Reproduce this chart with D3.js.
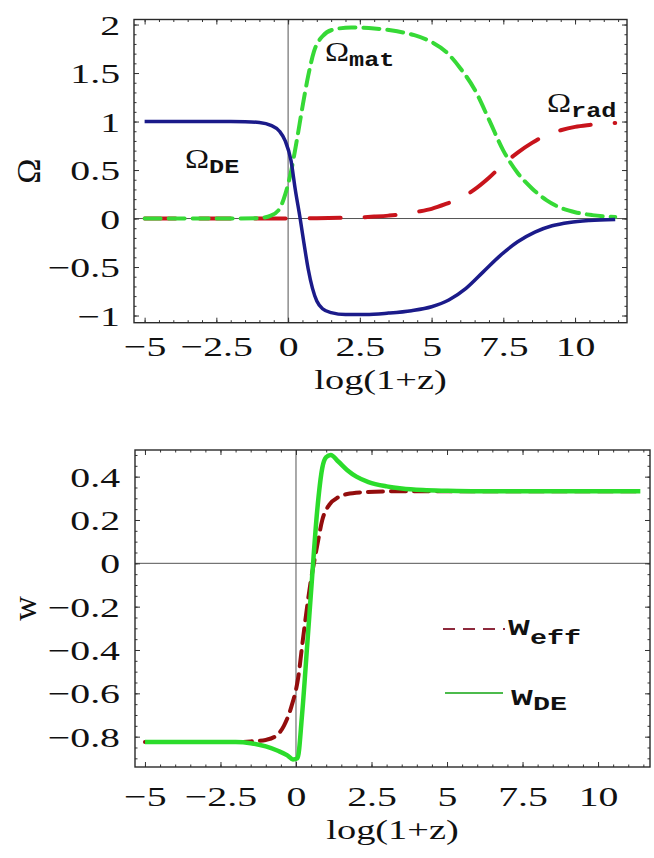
<!DOCTYPE html>
<html>
<head>
<meta charset="utf-8">
<script src="https://cdn.jsdelivr.net/npm/d3@7"></script>
<style>
  html, body { margin: 0; padding: 0; background: #fff; }
  svg { display: block; }
</style>
</head>
<body>
<svg id="fig" width="654" height="858"></svg>
<script>
// ---- Upper panel: density parameters vs log(1+z) ----
const omegaDE_x = [-5, -3, -2, -1.5, -1, -0.6, -0.3, -0.1, 0.1, 0.25, 0.42, 0.55, 0.7, 0.85, 1.0, 1.2, 1.5, 2.0, 2.7, 3.5, 4.3, 5.0, 5.6, 6.2, 6.8, 7.4, 8.0, 8.6, 9.2, 9.8, 10.5, 11.4];
const omegaDE_y = [1, 1, 1, 0.998, 0.99, 0.96, 0.9, 0.8, 0.6, 0.3, 0, -0.25, -0.52, -0.72, -0.85, -0.93, -0.97, -0.99, -0.99, -0.975, -0.95, -0.91, -0.84, -0.72, -0.55, -0.38, -0.24, -0.14, -0.075, -0.04, -0.02, -0.01];

const omegaMat_x = [-5, -2, -1, -0.6, -0.3, -0.1, 0.1, 0.3, 0.5, 0.7, 0.9, 1.2, 1.6, 2.2, 3.0, 3.8, 4.4, 5.0, 5.5, 6.0, 6.5, 7.0, 7.5, 8.0, 8.5, 9.0, 9.5, 10.0, 10.6, 11.4];
const omegaMat_y = [0, 0, 0.005, 0.03, 0.1, 0.25, 0.48, 0.8, 1.15, 1.47, 1.72, 1.88, 1.95, 1.97, 1.96, 1.93, 1.89, 1.82, 1.72, 1.55, 1.33, 1.02, 0.7, 0.47, 0.31, 0.19, 0.11, 0.065, 0.035, 0.015];

const omegaRad_x = [-5, 0, 1, 2, 2.5, 3, 3.5, 4, 4.5, 5, 5.5, 6, 6.5, 7, 7.5, 8, 8.5, 9, 9.5, 10, 10.5, 11, 11.4];
const omegaRad_y = [0, 0, 0.003, 0.008, 0.012, 0.02, 0.03, 0.045, 0.07, 0.1, 0.15, 0.21, 0.3, 0.42, 0.56, 0.68, 0.78, 0.86, 0.91, 0.945, 0.965, 0.98, 0.985];

// ---- Lower panel: equation of state ----
const wDE_x = [-5, -3, -2, -1.5, -1, -0.6, -0.3, -0.1, 0.05, 0.2, 0.37, 0.53, 0.7, 0.87, 1.0, 1.15, 1.4, 1.7, 2.0, 2.4, 3.0, 3.5, 4.2, 5, 6, 8, 10, 11.4];
const wDE_y = [-0.825, -0.825, -0.825, -0.83, -0.845, -0.865, -0.885, -0.905, -0.9, -0.7, -0.38, -0.07, 0.24, 0.44, 0.49, 0.5, 0.47, 0.43, 0.4, 0.375, 0.355, 0.345, 0.338, 0.335, 0.333, 0.333, 0.333, 0.333];

const wEff_x = [-5, -3, -2, -1.5, -1, -0.7, -0.4, -0.15, 0.07, 0.23, 0.47, 0.7, 0.87, 1.1, 1.4, 1.7, 2.2, 3, 4, 6, 8, 10, 11.4];
const wEff_y = [-0.825, -0.825, -0.825, -0.822, -0.815, -0.8, -0.75, -0.66, -0.53, -0.35, -0.1, 0.08, 0.2, 0.27, 0.305, 0.32, 0.328, 0.332, 0.333, 0.333, 0.333, 0.333, 0.333];

// ---- Tick labels ----
const topXTicks = [-5, -2.5, 0, 2.5, 5, 7.5, 10];
const topYTicks = [-1, -0.5, 0, 0.5, 1, 1.5, 2];
const botXTicks = [-5, -2.5, 0, 2.5, 5, 7.5, 10];
const botYTicks = [-0.8, -0.6, -0.4, -0.2, 0, 0.2, 0.4];

const xTitle = "log(1+z)";
const topYTitle = "Ω";
const botYTitle = "w";

const SERIF = "'Liberation Serif', 'Times New Roman', serif";
const MONO = "'Liberation Mono', 'Courier New', monospace";
const fmt = v => (v < 0 ? "\u2212" : "") + Math.abs(v);
const zip = (xs, ys) => xs.map((x, i) => [x, ys[i]]);

const svg = d3.select("#fig");

function panel(cfg) {
  const g = svg.append("g");
  const x = d3.scaleLinear().domain(cfg.xDom).range([cfg.left, cfg.right]);
  const y = d3.scaleLinear().domain(cfg.yDom).range([cfg.bottom, cfg.top]);

  // zero axes
  g.append("line").attr("x1", x(0)).attr("x2", x(0)).attr("y1", cfg.top).attr("y2", cfg.bottom)
    .attr("stroke", "#555").attr("stroke-width", 1);
  g.append("line").attr("x1", cfg.left).attr("x2", cfg.right).attr("y1", y(0)).attr("y2", y(0))
    .attr("stroke", "#555").attr("stroke-width", 1);

  // inward frame ticks on all four sides
  const tickSets = [
    [d3.axisBottom(x), cfg.bottom, "x", cfg.xTicks, 5],
    [d3.axisBottom(x), cfg.bottom, "x", cfg.xMinor, 2.5],
    [d3.axisTop(x), cfg.top, "x", cfg.xTicks, 5],
    [d3.axisTop(x), cfg.top, "x", cfg.xMinor, 2.5],
    [d3.axisLeft(y), cfg.left, "y", cfg.yTicks, 5],
    [d3.axisLeft(y), cfg.left, "y", cfg.yMinor, 2.5],
    [d3.axisRight(y), cfg.right, "y", cfg.yTicks, 5],
    [d3.axisRight(y), cfg.right, "y", cfg.yMinor, 2.5]
  ];
  tickSets.forEach(([ax, pos, dir, vals, len]) => {
    const a = g.append("g")
      .attr("transform", dir === "x" ? `translate(0,${pos})` : `translate(${pos},0)`)
      .call(ax.tickValues(vals).tickSize(-len).tickFormat(""));
    a.select(".domain").remove();
    a.selectAll("line").attr("stroke", "#333").attr("stroke-width", 1);
    a.selectAll("text").remove();
  });

  // tick labels from axes, stretched like the rest of the lettering
  const bx = g.append("g").attr("transform", `translate(0,${cfg.xLabelY})`)
    .call(d3.axisBottom(x).tickValues(cfg.xTicks).tickSize(0).tickFormat(fmt));
  bx.select(".domain").remove();
  bx.selectAll("text").attr("x", null).attr("y", null).attr("dy", null)
    .attr("transform", "scale(1.42,1)")
    .attr("font-family", SERIF).attr("font-size", 28).attr("fill", "#111")
    .attr("text-anchor", "middle");

  const ly = g.append("g").attr("transform", `translate(${cfg.yLabelX},0)`)
    .call(d3.axisLeft(y).tickValues(cfg.yTicks).tickSize(0).tickFormat(fmt));
  ly.select(".domain").remove();
  ly.selectAll("text").attr("x", null).attr("y", null).attr("dy", null)
    .attr("transform", "translate(0,9.5) scale(1.42,1)")
    .attr("font-family", SERIF).attr("font-size", 28).attr("fill", "#111")
    .attr("text-anchor", "end");

  // frame
  g.append("rect").attr("x", cfg.left).attr("y", cfg.top)
    .attr("width", cfg.right - cfg.left).attr("height", cfg.bottom - cfg.top)
    .attr("fill", "none").attr("stroke", "#2a2a2a").attr("stroke-width", 1.4);

  // axis titles
  g.append("text").attr("transform", `translate(${(cfg.left + cfg.right) / 2},${cfg.titleY}) scale(1.37,1)`)
    .attr("text-anchor", "middle").attr("font-family", SERIF).attr("font-size", 28).attr("fill", "#111")
    .text(xTitle);
  g.append("text").attr("transform", `translate(${cfg.yTitleX},${(cfg.top + cfg.bottom) / 2}) rotate(-90)`)
    .attr("text-anchor", "middle").attr("dy", "0.35em")
    .attr("font-family", SERIF).attr("font-size", 34).attr("fill", "#111")
    .text(cfg.yTitle);

  return { g, x, y };
}

function drawLine(p, xs, ys, color, width, dash) {
  const line = d3.line().x(d => p.x(d[0])).y(d => p.y(d[1])).curve(d3.curveMonotoneX);
  p.g.append("path").datum(zip(xs, ys)).attr("d", line)
    .attr("fill", "none").attr("stroke", color).attr("stroke-width", width)
    .attr("stroke-dasharray", dash || null).attr("stroke-linecap", dash ? "round" : "butt")
    .attr("stroke-linejoin", "round");
}

function richLabel(g, x, y, main, sub, opts) {
  const t = g.append("text").attr("transform", `translate(${x},${y}) scale(${opts.sx},1)`).attr("fill", "#111");
  t.append("tspan").attr("font-family", opts.mainFamily).attr("font-size", opts.mainSize)
    .attr("font-weight", opts.mainWeight || "normal").text(main);
  t.append("tspan").attr("font-family", MONO).attr("font-weight", "bold")
    .attr("font-size", opts.subSize).attr("dy", opts.subDy).text(sub);
}

// ---------- upper panel ----------
const upperPanel = panel({
  left: 134, right: 627, top: 19.5, bottom: 322.7,
  xDom: [-5.37, 11.81], yDom: [-1.074, 2.052],
  xTicks: topXTicks, yTicks: topYTicks,
  xMinor: d3.range(-5, 11.6, 0.5), yMinor: d3.range(-1, 2.01, 0.1),
  xLabelY: 356, yLabelX: 120, titleY: 389, yTitleX: 28, yTitle: topYTitle
});
drawLine(upperPanel, omegaRad_x, omegaRad_y, "#c8141c", 4, "31,24");
drawLine(upperPanel, omegaMat_x, omegaMat_y, "#36d936", 4, "16,8");
drawLine(upperPanel, omegaDE_x, omegaDE_y, "#1b1b8a", 3.5);

const omOpts = { sx: 1.2, mainFamily: SERIF, mainSize: 27, subSize: 21, subDy: 5 };
richLabel(upperPanel.g, 185, 168, "Ω", "DE", omOpts);
richLabel(upperPanel.g, 325, 61, "Ω", "mat", omOpts);
richLabel(upperPanel.g, 547, 112, "Ω", "rad", omOpts);

// ---------- lower panel ----------
const lowerPanel = panel({
  left: 135, right: 650, top: 450, bottom: 767,
  xDom: [-5.33, 11.72], yDom: [-0.94, 0.523],
  xTicks: botXTicks, yTicks: botYTicks,
  xMinor: d3.range(-5, 11.6, 0.5), yMinor: d3.range(-0.9, 0.51, 0.05),
  xLabelY: 806, yLabelX: 120, titleY: 839, yTitleX: 24, yTitle: botYTitle
});
drawLine(lowerPanel, wEff_x, wEff_y, "#930d0d", 4, "15,8");
drawLine(lowerPanel, wDE_x, wDE_y, "#2bdc2b", 4.5);

// legend
lowerPanel.g.append("line").attr("x1", 443).attr("x2", 505).attr("y1", 629).attr("y2", 629)
  .attr("stroke", "#8e2a3c").attr("stroke-width", 2).attr("stroke-dasharray", "12,8");
lowerPanel.g.append("line").attr("x1", 445).attr("x2", 503).attr("y1", 693).attr("y2", 693)
  .attr("stroke", "#4cbb4c").attr("stroke-width", 2);
const legOpts = { sx: 1.35, mainFamily: MONO, mainWeight: "bold", mainSize: 27, subSize: 21, subDy: 9 };
richLabel(lowerPanel.g, 508, 635, "w", "eff", legOpts);
richLabel(lowerPanel.g, 511, 705, "w", "DE", Object.assign({}, legOpts, { subDy: 5 }));
</script>
</body>
</html>
